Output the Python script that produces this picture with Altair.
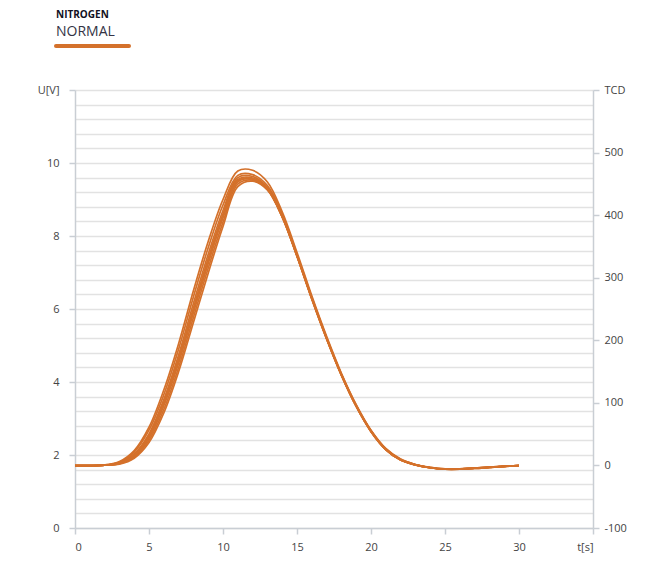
import altair as alt
import pandas as pd

T = list(range(31))
C1 = [1.71,1.71,1.73,1.82,2.12,2.76,3.78,5.05,6.50,7.85,9.00,9.78,9.80,9.48,8.66,7.55,6.36,5.25,4.24,3.38,2.68,2.18,1.89,1.74,1.66,1.62,1.62,1.64,1.67,1.69,1.71]
C2 = [1.71,1.71,1.72,1.80,2.08,2.68,3.65,4.90,6.33,7.68,8.85,9.66,9.68,9.38,8.60,7.50,6.32,5.22,4.22,3.36,2.67,2.17,1.88,1.74,1.66,1.62,1.62,1.64,1.67,1.69,1.71]
C3 = [1.71,1.71,1.72,1.79,2.03,2.58,3.52,4.74,6.15,7.50,8.70,9.60,9.63,9.33,8.56,7.46,6.30,5.20,4.20,3.35,2.66,2.16,1.87,1.73,1.65,1.62,1.62,1.64,1.67,1.69,1.71]
C4 = [1.71,1.71,1.72,1.78,2.00,2.52,3.44,4.64,6.02,7.38,8.60,9.55,9.59,9.30,8.54,7.45,6.28,5.18,4.19,3.34,2.65,2.15,1.87,1.73,1.65,1.61,1.62,1.64,1.66,1.69,1.71]
C5 = [1.71,1.71,1.72,1.77,1.97,2.46,3.35,4.52,5.90,7.25,8.50,9.48,9.56,9.28,8.52,7.44,6.27,5.18,4.18,3.33,2.64,2.15,1.86,1.73,1.65,1.61,1.61,1.64,1.66,1.69,1.71]
C6 = [1.71,1.71,1.72,1.76,1.94,2.40,3.25,4.40,5.77,7.12,8.38,9.42,9.53,9.27,8.52,7.45,6.28,5.19,4.19,3.33,2.64,2.15,1.86,1.73,1.65,1.61,1.61,1.63,1.66,1.69,1.71]
C7 = [1.71,1.71,1.72,1.75,1.91,2.34,3.15,4.28,5.63,6.98,8.26,9.35,9.50,9.26,8.52,7.46,6.30,5.20,4.20,3.34,2.65,2.15,1.86,1.73,1.65,1.61,1.61,1.63,1.66,1.69,1.71]
C8 = [1.71,1.71,1.72,1.78,1.99,2.50,3.40,4.58,5.96,7.32,8.55,9.52,9.57,9.30,8.55,7.47,6.30,5.20,4.20,3.35,2.65,2.15,1.87,1.73,1.65,1.62,1.62,1.64,1.66,1.69,1.71]

X_TICKS = [0, 5, 10, 15, 20, 25, 30, 35]
U_GRID = [round(i * 0.4, 1) for i in range(31)]
TCD_TICKS = [-100, 0, 100, 200, 300, 400, 500, 600]

ORANGE = "#d4712b"
AXIS_GRAY = "#c9ced4"
FONT = "Open Sans"

curves = {"r1": C1, "r2": C2, "r3": C3, "r4": C4, "r5": C5, "r6": C6, "r7": C7, "r8": C8}
rows = []
for name, vals in curves.items():
    for t, u in zip(T, vals):
        rows.append({"run": name, "t": t, "u": u})
df = pd.DataFrame(rows)

lines = alt.Chart(df).mark_line(
    color=ORANGE, strokeWidth=1.7, interpolate="catmull-rom", clip=False
).encode(
    x=alt.X("t:Q", scale=alt.Scale(domain=[0, 35], nice=False),
            axis=alt.Axis(values=X_TICKS, title=None, grid=False,
                          labelExpr="datum.value == 35 ? 't[s]' : '' + datum.value",
                          domainColor=AXIS_GRAY, domainWidth=1.5,
                          tickColor=AXIS_GRAY, tickWidth=1.5, tickSize=6,
                          labelPadding=7, labelFontSize=11, labelColor="#444",
                          labelFont=FONT)),
    y=alt.Y("u:Q", scale=alt.Scale(domain=[0, 12], nice=False),
            axis=alt.Axis(values=U_GRID, title=None, grid=True,
                          gridColor="#e2e2e2", gridWidth=1.5,
                          labelExpr="abs(datum.value - round(datum.value / 2) * 2) < 0.01 ? (datum.value > 11.9 ? 'U[V]' : '' + round(datum.value)) : ''",
                          tickOpacity={"condition": {"test": "abs(datum.value - round(datum.value / 2) * 2) < 0.01", "value": 1}, "value": 0},
                          domainColor=AXIS_GRAY, domainWidth=1.5,
                          tickColor=AXIS_GRAY, tickWidth=1.5, tickSize=6,
                          labelPadding=10, labelFontSize=11, labelColor="#444",
                          labelFont=FONT)),
    detail="run:N",
)

tcd_df = pd.DataFrame({"tcd": TCD_TICKS})
right_axis = alt.Chart(tcd_df).mark_point(opacity=0).encode(
    y=alt.Y("tcd:Q", scale=alt.Scale(domain=[-100, 600], nice=False),
            axis=alt.Axis(orient="right", values=TCD_TICKS, title=None, grid=False,
                          labelExpr="datum.value == 600 ? 'TCD' : '' + datum.value",
                          domainColor=AXIS_GRAY, domainWidth=1.5,
                          tickColor=AXIS_GRAY, tickWidth=1.5, tickSize=6,
                          labelPadding=5, labelFontSize=11, labelColor="#444",
                          labelFont=FONT)),
)

legend_df = pd.DataFrame({"series": ["NORMAL"]})
legend_bar = alt.Chart(legend_df).mark_rule(
    color=ORANGE, strokeWidth=4, strokeCap="round"
).encode(x=alt.value(-19), x2=alt.value(54), y=alt.value(-44))

chart = alt.layer(lines, right_axis, legend_bar).resolve_scale(
    y="independent"
).properties(
    width=518,
    height=438,
    padding={"left": 67, "top": 82, "right": 50, "bottom": 40},
    autosize=alt.AutoSizeParams(type="none"),
    title=alt.TitleParams(
        text="NITROGEN", subtitle="NORMAL", anchor="start", frame="group",
        dx=-19, offset=5, font=FONT, fontSize=10, fontWeight="bold",
        color="#111122", subtitleFont=FONT, subtitleFontSize=14,
        subtitleColor="#333344", subtitlePadding=5,
    ),
).configure_view(stroke=None)

chart.save("out.html", embed_options={"renderer": "svg", "actions": False})
